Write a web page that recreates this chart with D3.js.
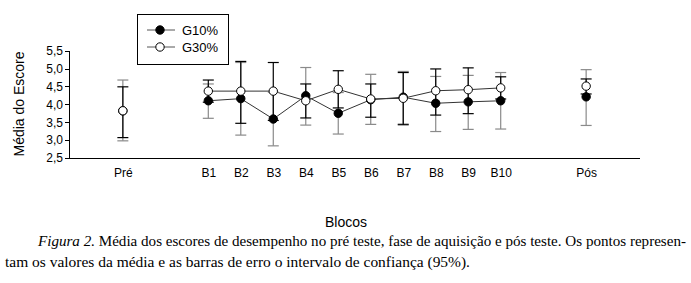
<!DOCTYPE html>
<html lang="pt">
<head>
<meta charset="utf-8">
<style>
  body { margin: 0; background: #fff; }
  .axis { font: 12px "Liberation Sans", Arial, sans-serif; }
  .axis path, .axis line { fill: none; stroke: #000; shape-rendering: crispEdges; }
  .caption { font: 14.5px "Liberation Serif", "Times New Roman", serif; fill: #000; }
</style>
<script src="https://d3js.org/d3.v7.min.js" charset="utf-8"></script>
</head>
<body>
<script>
  // categories on the x axis
  let categories = ["Pré", "B1", "B2", "B3", "B4", "B5", "B6", "B7", "B8", "B9", "B10", "Pós"];

  // G10% : mean and 95% CI
  let g10Mean = [3.82, 4.10, 4.16, 3.59, 4.24, 3.75, 4.13, 4.20, 4.03, 4.07, 4.10, 4.21];
  let g10Low  = [2.98, 3.61, 3.14, 2.84, 3.42, 3.17, 3.44, 3.45, 3.24, 3.30, 3.31, 3.41];
  let g10High = [4.68, 4.57, 5.17, 4.34, 5.03, 4.33, 4.84, 4.92, 4.78, 4.81, 4.89, 4.97];

  // G30% : mean and 95% CI
  let g30Mean = [3.82, 4.37, 4.37, 4.37, 4.10, 4.42, 4.15, 4.17, 4.38, 4.41, 4.46, 4.51];
  let g30Low  = [3.07, 4.06, 3.47, 3.55, 3.62, 3.90, 3.64, 3.43, 3.70, 3.74, 4.15, 4.29];
  let g30High = [4.49, 4.68, 5.20, 5.17, 4.57, 4.94, 4.57, 4.89, 4.99, 5.02, 4.77, 4.71];

  let yTicks = [2.5, 3.0, 3.5, 4.0, 4.5, 5.0, 5.5];
  let seriesNames = ["G10%", "G30%"];

  let svg = d3.select("body").append("svg")
    .attr("width", 691)
    .attr("height", 283);

  let plotLeft = 69, plotRight = 640, plotTop = 50.7, plotBottom = 158;

  // slot index for each category; Pré and Pós sit apart from the blocks
  let gapExtra = 1.63;
  function slot(i) {
    let s = i;
    if (i > 0) s += gapExtra;
    if (i === categories.length - 1) s += gapExtra;
    return s;
  }

  let xs = d3.scaleLinear()
    .domain([slot(1), slot(10)])
    .range([208.3, 500.7]);
  let x = function(i) { return xs(slot(i)); };

  let y = d3.scaleLinear()
    .domain([2.5, 5.5])
    .range([plotBottom, plotTop]);

  // y axis
  svg.append("g")
    .attr("class", "axis")
    .attr("transform", "translate(" + plotLeft + ",0)")
    .call(d3.axisLeft(y).tickValues(yTicks).tickSize(4).tickPadding(2)
      .tickFormat(function(d) { return d3.format(".1f")(d).replace(".", ","); }))
    .call(function(g) { g.select(".domain").attr("d", "M0," + y(5.5) + "V" + y(2.5)); })
    .selectAll("text").attr("fill", "#000");

  // x axis: a baseline and the labels, no ticks
  let xBand = d3.scaleOrdinal()
    .domain(categories)
    .range(categories.map(function(c, i) { return x(i); }));
  let xAxis = d3.axisBottom(xBand).tickSize(0).tickPadding(10);
  svg.append("g")
    .attr("class", "axis")
    .attr("transform", "translate(0," + plotBottom + ")")
    .call(xAxis)
    .call(function(g) { g.select(".domain").attr("d", "M" + plotLeft + ",0H" + plotRight); })
    .selectAll("text").attr("fill", "#000");

  let series = [
    { name: seriesNames[0], mean: g10Mean, low: g10Low, high: g10High, fill: "#000", bar: "#8a8a8a" },
    { name: seriesNames[1], mean: g30Mean, low: g30Low, high: g30High, fill: "#fff", bar: "#000" }
  ];

  let blockIdx = d3.range(1, 11);

  // connecting lines for the blocks
  series.forEach(function(s) {
    svg.append("path")
      .datum(blockIdx)
      .attr("fill", "none")
      .attr("stroke", "#333")
      .attr("stroke-width", 1)
      .attr("d", d3.line()
        .x(function(i) { return x(i); })
        .y(function(i) { return y(s.mean[i]); }));
  });

  // error bars
  let capHalf = 5.5;
  series.forEach(function(s) {
    let g = svg.append("g").attr("stroke", s.bar).attr("stroke-width", 1.2);
    let idx = d3.range(categories.length);
    g.selectAll(".v").data(idx).join("line")
      .attr("x1", function(i) { return x(i); })
      .attr("x2", function(i) { return x(i); })
      .attr("y1", function(i) { return y(s.low[i]); })
      .attr("y2", function(i) { return y(s.high[i]); });
    g.selectAll(".hi").data(idx).join("line")
      .attr("x1", function(i) { return x(i) - capHalf; })
      .attr("x2", function(i) { return x(i) + capHalf; })
      .attr("y1", function(i) { return y(s.high[i]); })
      .attr("y2", function(i) { return y(s.high[i]); });
    g.selectAll(".lo").data(idx).join("line")
      .attr("x1", function(i) { return x(i) - capHalf; })
      .attr("x2", function(i) { return x(i) + capHalf; })
      .attr("y1", function(i) { return y(s.low[i]); })
      .attr("y2", function(i) { return y(s.low[i]); });
  });

  // points
  series.forEach(function(s) {
    svg.append("g").selectAll("circle")
      .data(d3.range(categories.length))
      .join("circle")
      .attr("cx", function(i) { return x(i); })
      .attr("cy", function(i) { return y(s.mean[i]); })
      .attr("r", 4.2)
      .attr("fill", s.fill)
      .attr("stroke", "#000")
      .attr("stroke-width", 1);
  });

  // y label
  svg.append("text")
    .attr("transform", "translate(24,104) rotate(-90)")
    .attr("text-anchor", "middle")
    .style("font", "14px 'Liberation Sans', Arial, sans-serif")
    .text("Média do Escore");

  // legend
  let legend = svg.append("g");
  legend.append("rect")
    .attr("x", 137.5).attr("y", 14.5).attr("width", 91).attr("height", 50)
    .attr("fill", "#fff").attr("stroke", "#000");
  series.forEach(function(s, k) {
    let ly = 30 + k * 17;
    legend.append("line")
      .attr("x1", 147).attr("x2", 175).attr("y1", ly).attr("y2", ly)
      .attr("stroke", "#555");
    legend.append("circle")
      .attr("cx", 160).attr("cy", ly).attr("r", 4.2)
      .attr("fill", s.fill).attr("stroke", "#000");
    legend.append("text")
      .attr("x", 182).attr("y", ly + 4.5)
      .style("font", "13px 'Liberation Sans', Arial, sans-serif")
      .text(s.name);
  });

  // x title
  svg.append("text")
    .attr("x", 346).attr("y", 227)
    .attr("text-anchor", "middle")
    .style("font", "14px 'Liberation Sans', Arial, sans-serif")
    .text("Blocos");

  // caption
  let cap1 = svg.append("text").attr("class", "caption")
    .attr("x", 38).attr("y", 246)
    .attr("textLength", 648).attr("lengthAdjust", "spacingAndGlyphs");
  cap1.append("tspan").style("font-style", "italic").text("Figura 2.");
  cap1.append("tspan").text(" Média dos escores de desempenho no pré teste, fase de aquisição e pós teste. Os pontos represen-");

  svg.append("text").attr("class", "caption")
    .attr("x", 5).attr("y", 267)
    .attr("textLength", 465).attr("lengthAdjust", "spacingAndGlyphs")
    .text("tam os valores da média e as barras de erro o intervalo de confiança (95%).");
</script>
</body>
</html>
